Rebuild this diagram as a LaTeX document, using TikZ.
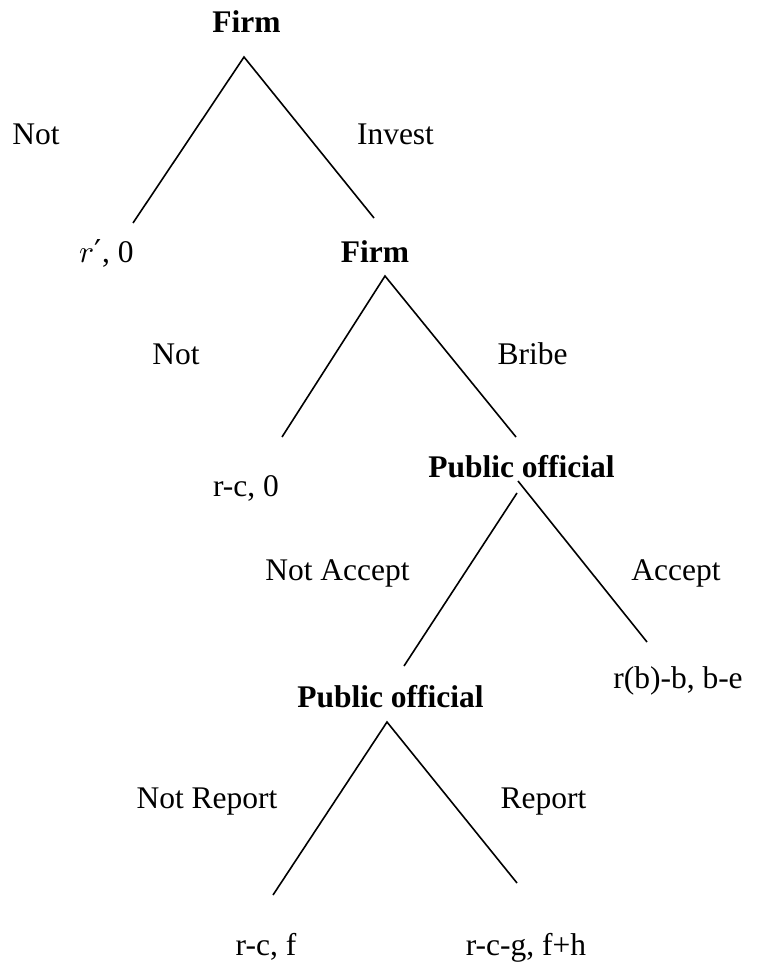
\documentclass[tikz,border=0pt]{standalone}
\usepackage{fontspec}
\usepackage{unicode-math}
\setmainfont{Liberation Serif}
\setmathfont{Latin Modern Math}
\newfontfamily\dvsfont{DejaVu Sans}
\tikzset{
  lbl/.style={anchor=base, inner sep=0pt, font=\fontsize{31.5}{36}\selectfont},
  player/.style={lbl, font=\fontsize{31.5}{36}\selectfont\bfseries},
  branch/.style={line width=1.6pt}
}
\begin{document}
\begin{tikzpicture}[x=1pt,y=-1pt]
\useasboundingbox (0,0) rectangle (759,965);
% players
\node[player] (firm1) at (246.5,33) {Firm};
\node[player] (firm2) at (375,262) {Firm};
\node[player] (po1) at (521.5,477) {Public official};
\node[player] (po2) at (390.5,707) {Public official};
% action labels
\node[lbl] (not1) at (36,145) {Not};
\node[lbl] (invest) at (395.5,145) {Invest};
\node[lbl] (not2) at (176,364) {Not};
\node[lbl] (bribe) at (532.5,364) {Bribe};
\node[lbl] (notacc) at (337.5,580) {Not Accept};
\node[lbl] (accept) at (676,580) {Accept};
\node[lbl] (notrep) at (207,808) {Not Report};
\node[lbl] (report) at (543.5,808) {Report};
% payoffs
\node[lbl] (pay1) at (106.5,262) {$r$\kern1pt{\dvsfont ′}, 0};
\node[lbl] (pay2) at (246,496) {r-c, 0};
\node[lbl] (pay3) at (678,688) {r(b)-b, b-e};
\node[lbl] (pay4) at (266,955) {r-c, f};
\node[lbl] (pay5) at (526,955) {r-c-g, f+h};
% branch end points
\coordinate (a1) at (244,57);
\coordinate (a1l) at (133,223);
\coordinate (a1r) at (374,218);
\coordinate (a2) at (385,276);
\coordinate (a2l) at (282,437);
\coordinate (a2r) at (516,437);
\coordinate (a3l0) at (517,493);
\coordinate (a3r0) at (518,481);
\coordinate (a3l) at (404,666);
\coordinate (a3r) at (647,642);
\coordinate (a4) at (387,722);
\coordinate (a4l) at (273,895);
\coordinate (a4r) at (517,883);
% branches
\draw[branch] (a1l) -- (a1) -- (a1r);
\draw[branch] (a2l) -- (a2) -- (a2r);
\draw[branch] (a3l0) -- (a3l);
\draw[branch] (a3r0) -- (a3r);
\draw[branch] (a4l) -- (a4) -- (a4r);
\end{tikzpicture}
\end{document}
